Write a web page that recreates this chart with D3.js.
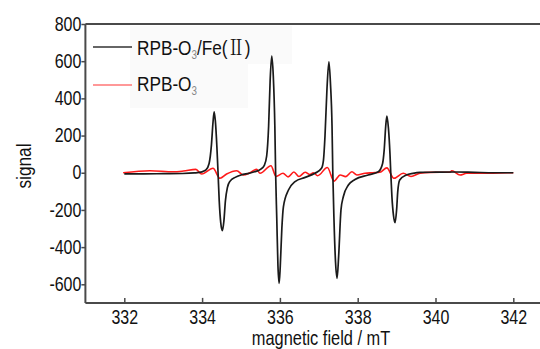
<!DOCTYPE html>
<html><head><meta charset="utf-8">
<script src="https://cdn.jsdelivr.net/npm/d3@7"></script>
<style>
html,body{margin:0;padding:0;background:#fff;}
svg{display:block;}
text{font-family:"Liberation Sans Narrow","Arial Narrow","Liberation Sans",sans-serif;fill:#111;}
</style></head>
<body>
<svg id="c" width="540" height="349"></svg>
<script>
// magnetic field (mT) / signal for RPB-O3/Fe(II)
const blackX = [332.00,332.50,333.00,333.50,333.80,334.00,334.10,334.18,334.24,334.28,334.31,334.34,334.38,334.41,334.44,334.48,334.52,334.56,334.60,334.65,334.72,334.85,335.00,335.20,335.35,335.50,335.60,335.66,335.71,335.75,335.79,335.83,335.87,335.89,335.92,335.95,335.98,336.01,336.05,336.09,336.22,336.39,336.65,336.90,337.07,337.12,337.16,337.21,337.26,337.30,337.34,337.36,337.39,337.43,337.47,337.51,337.57,337.63,337.76,337.93,338.27,338.53,338.64,338.68,338.72,338.75,338.79,338.83,338.85,338.88,338.92,338.96,339.00,339.03,339.08,339.25,339.42,339.60,340.00,340.50,341.00,341.50,342.00];
const blackY = [-6,-6,-5,-4,-1,5,15,50,150,270,328,280,140,0,-150,-270,-312,-260,-150,-80,-45,-25,-12,-3,5,18,40,90,250,500,627,520,250,0,-250,-500,-595,-500,-300,-183,-93,-48,-25,-3,24,68,200,450,597,480,250,0,-250,-480,-568,-450,-200,-129,-66,-36,-12,5,50,120,250,305,240,100,0,-130,-230,-269,-200,-100,-39,-12,-3,2,3,4,2,0,0];
// RPB-O3
const redX = [331.97,332.66,333.26,333.52,333.84,333.99,334.28,334.46,334.63,334.89,335.06,335.23,335.40,335.49,335.77,335.90,336.08,336.21,336.36,336.49,336.65,336.77,336.86,336.97,337.22,337.39,337.55,337.69,337.85,337.98,338.19,338.39,338.57,338.75,338.93,339.17,339.37,339.60,339.86,340.37,340.42,340.63,340.80,341.14,341.66,342.00];
const redY = [0,11,5,9,18,-7,24,-30,-7,11,-12,0,18,-3,38,-20,-3,-22,4,-20,3,-10,0,-16,28,-45,-12,-21,5,-12,-3,0,3,26,-30,-3,-20,-3,2,3,11,-12,-3,-3,-1,0];
const xTicks = [332,334,336,338,340,342];
const yTicks = [-600,-400,-200,0,200,400,600,800];

const svg = d3.select("#c");
const x = d3.scaleLinear().domain([332,342]).range([124.3,513.3]);
const y = d3.scaleLinear().domain([-600,800]).range([284.3,24]);
const xL = x(331), xR = 540, yT = y(800), yB = y(-700);
const FONT = '"Liberation Sans Narrow","Arial Narrow","Liberation Sans",sans-serif';
const K = 0.82; // horizontal condensing of the font

// legend backgrounds (very faint)
svg.append("rect").attr("x",130).attr("y",26).attr("width",162).attr("height",38).attr("fill","#fafafa");
svg.append("rect").attr("x",130).attr("y",64).attr("width",118).attr("height",44).attr("fill","#fafafa");

// axes frame
const axColor = "#4a4a4a";
svg.append("line").attr("x1",xL).attr("x2",xR).attr("y1",yT).attr("y2",yT).attr("stroke",axColor).attr("stroke-width",2);
svg.append("line").attr("x1",xL).attr("x2",xL).attr("y1",yT).attr("y2",yB).attr("stroke",axColor).attr("stroke-width",2);
svg.append("line").attr("x1",xL).attr("x2",xR).attr("y1",yB).attr("y2",yB).attr("stroke",axColor).attr("stroke-width",2);

// x axis ticks (inward)
const gx = svg.append("g").attr("transform",`translate(0,${yB})`)
  .call(d3.axisBottom(x).tickValues(xTicks).tickSize(-5).tickPadding(7).tickFormat(d=>String(d)));
gx.select(".domain").remove();
gx.selectAll(".tick line").attr("stroke",axColor).attr("stroke-width",1.5);
gx.selectAll("text").attr("font-size",19.5).style("font-family",FONT).attr("fill","#111")
  .attr("transform",`scale(${K},1)`);

// y axis ticks (outward)
const gy = svg.append("g").attr("transform",`translate(${xL},0)`)
  .call(d3.axisLeft(y).tickValues(yTicks).tickSize(4).tickPadding(2).tickFormat(d=>String(d)));
gy.select(".domain").remove();
gy.selectAll(".tick line").attr("stroke",axColor).attr("stroke-width",1.5);
gy.selectAll("text").attr("font-size",19.5).style("font-family",FONT).attr("fill","#111")
  .attr("x",-4/K).attr("transform",`scale(${K},1)`);

// lines
const line = d3.line().x(d=>x(d[0])).y(d=>y(d[1])).curve(d3.curveMonotoneX);
svg.append("path").datum(redX.map((v,i)=>[v,redY[i]])).attr("d",line)
  .attr("fill","none").attr("stroke","#ff1a1a").attr("stroke-width",1.6);
svg.append("path").datum(blackX.map((v,i)=>[v,blackY[i]])).attr("d",line)
  .attr("fill","none").attr("stroke","#1a1a1a").attr("stroke-width",1.7);

// legend
svg.append("line").attr("x1",93).attr("x2",132).attr("y1",47).attr("y2",47).attr("stroke","#333").attr("stroke-width",1.6);
svg.append("line").attr("x1",93).attr("x2",132).attr("y1",85).attr("y2",85).attr("stroke","#ff3333").attr("stroke-width",1.2);
const t1 = svg.append("text").attr("transform",`translate(137,55) scale(${K},1)`).attr("font-size",21);
t1.append("tspan").text("RPB-O");
t1.append("tspan").text("3").attr("font-size",12).attr("dy",4).attr("fill","#888");
t1.append("tspan").text("/Fe(").attr("dy",-4);
t1.append("tspan").text("Ⅱ").style("font-family",'"Noto Serif CJK SC","Noto Sans CJK SC",serif');
t1.append("tspan").text(")");
const t2 = svg.append("text").attr("transform",`translate(137,91) scale(${K},1)`).attr("font-size",21);
t2.append("tspan").text("RPB-O");
t2.append("tspan").text("3").attr("font-size",12).attr("dy",4).attr("fill","#888");

// axis titles
svg.append("text").attr("transform",`translate(321,345) scale(${K},1)`).attr("text-anchor","middle").attr("font-size",20).text("magnetic field / mT");
svg.append("text").attr("transform",`translate(30.5,166) rotate(-90) scale(0.84,1)`).attr("text-anchor","middle").attr("font-size",20.5).text("signal");
</script>
</body></html>
